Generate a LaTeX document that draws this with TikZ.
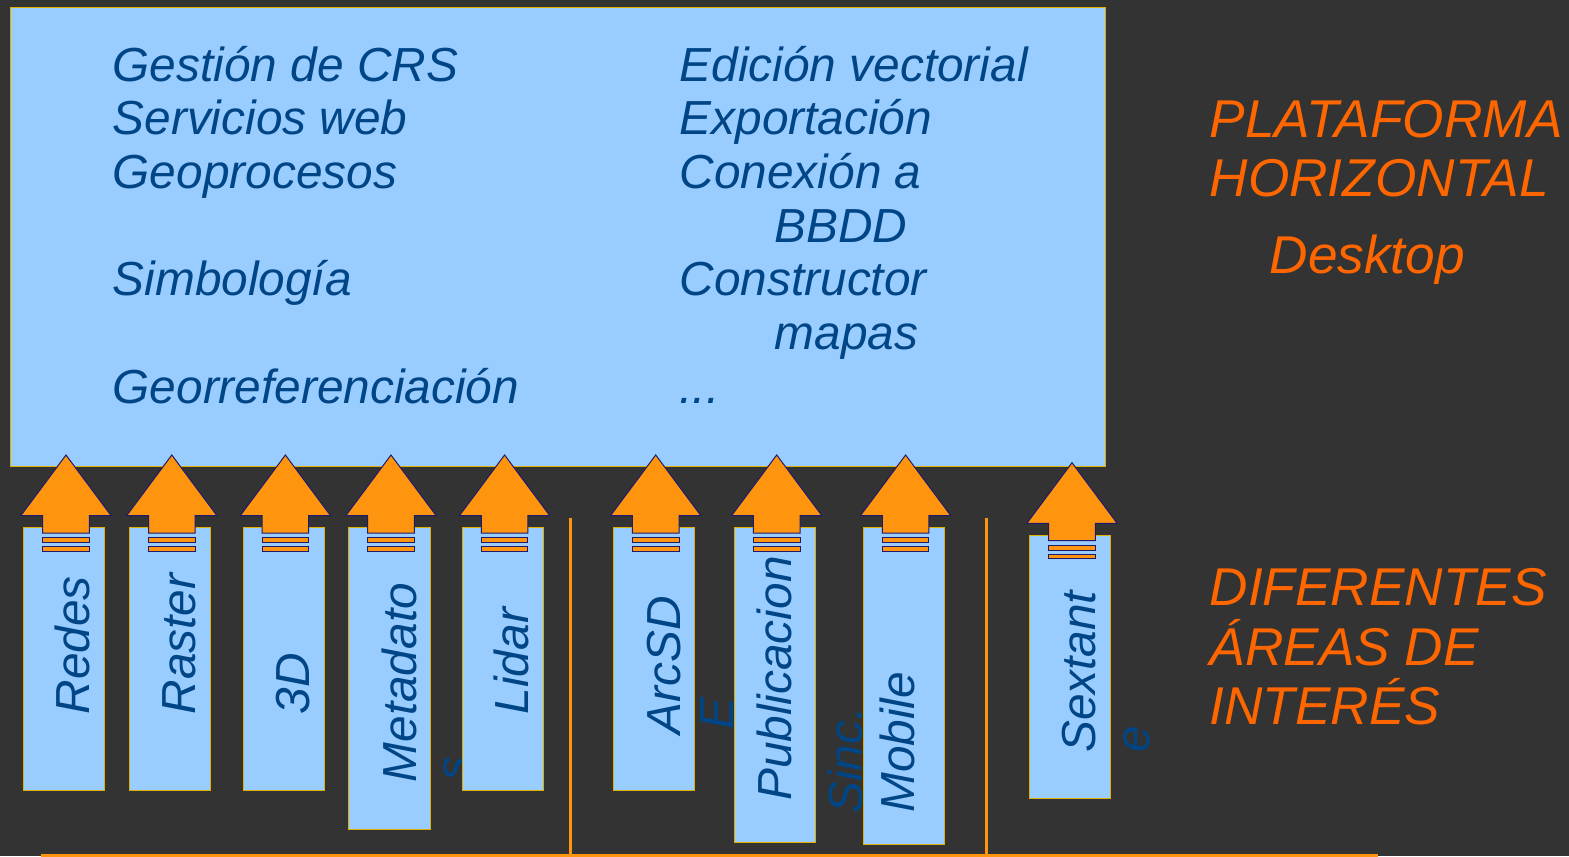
\documentclass[tikz,border=0pt]{standalone}
\usepackage{fontspec}
\setmainfont{Liberation Sans}
\definecolor{bg}{HTML}{333333}
\definecolor{boxfill}{HTML}{99CCFF}
\definecolor{boxline}{HTML}{E0B000}
\definecolor{txtblue}{HTML}{004586}
\definecolor{arrfill}{HTML}{FF950E}
\definecolor{arrline}{HTML}{1F1A6E}
\definecolor{orangetxt}{HTML}{FF6600}
\definecolor{sepline}{HTML}{FF950E}
\tikzset{
  areabox/.style={draw=boxline, fill=boxfill, line width=1bp, inner sep=0, anchor=north west},
  vtext/.style={rotate=90, anchor=base west, inner sep=0, text=txtblue, font=\fontsize{47.8bp}{53.6bp}\selectfont\itshape},
  htext/.style={anchor=base west, inner sep=0, text=txtblue, font=\fontsize{47.8bp}{53.6bp}\selectfont\itshape},
  sidelabel/.style={anchor=base west, inner sep=0, text=orangetxt, font=\fontsize{53.2bp}{59bp}\selectfont\itshape},
  uparrow/.style={fill=arrfill, draw=arrline, line width=1bp, line join=miter},
  sepline/.style={draw=sepline, line width=3bp}
}
\newcommand\myuparrow[2]{%
  \filldraw[uparrow] (#1,#2) -- ++(45.2,60.7) -- ++(-21.9,0) -- ++(0,17.3) -- ++(-46.6,0) -- ++(0,-17.3) -- ++(-21.9,0) -- cycle;
  \filldraw[uparrow] (#1-23.3,#2+82.7) rectangle (#1+23.3,#2+87.3);
  \filldraw[uparrow] (#1-23.3,#2+91.3) rectangle (#1+23.3,#2+96);
}
\begin{document}
\begin{tikzpicture}[x=1bp, y=-1bp]
\fill[bg] (0,0) rectangle (1569,856);
\useasboundingbox (0,0) rectangle (1569,856);

% main platform box
\node[areabox, minimum width=1095bp, minimum height=459bp] (plat) at (10,6.5) {};
\node[htext] (l1) at (112.5,81) {Gestión de CRS};
\node[htext] (l2) at (112.5,134.7) {Servicios web};
\node[htext] (l3) at (112.5,188.3) {Geoprocesos};
\node[htext] (l4) at (112.5,295.7) {Simbología};
\node[htext] (l5) at (112.5,403) {Georreferenciación};
\node[htext] (r1) at (679.5,81) {Edición vectorial};
\node[htext] (r2) at (679.5,134.7) {Exportación};
\node[htext] (r3) at (679.5,188.3) {Conexión a};
\node[htext] (r4) at (774.5,242) {BBDD};
\node[htext] (r5) at (679.5,295.7) {Constructor};
\node[htext] (r6) at (774.5,349.3) {mapas};
\node[htext] (r7) at (679.5,403) {...};

% side labels
\node[sidelabel] (p1) at (1209.5,137.3) {PLATAFORMA};
\node[sidelabel] (p2) at (1209.5,196.7) {HORIZONTAL};
\node[sidelabel] (p3) at (1269.5,273.3) {Desktop};
\node[sidelabel] (d1) at (1209.5,605) {DIFERENTES};
\node[sidelabel] (d2) at (1209.5,665.7) {ÁREAS DE};
\node[sidelabel] (d3) at (1209.5,724.3) {INTERÉS};

% separators
\draw[sepline] (570,518) -- (570,858);
\draw[sepline] (986,518) -- (986,858);
\draw[sepline] (41,855.5) -- (1378,855.5);

% area boxes with texts (in order, later boxes cover overflow)
\node[areabox, minimum width=81bp, minimum height=263.3bp] (redes) at (22.9,526.7) {};
\node[vtext] (tredes) at (89.3,714.5) {Redes};
\node[areabox, minimum width=81.5bp, minimum height=263.3bp] (raster) at (128.9,526.7) {};
\node[vtext] (traster) at (195.7,714.5) {Raster};
\node[areabox, minimum width=81bp, minimum height=263.3bp] (tres) at (242.5,526.7) {};
\node[vtext] (ttres) at (309,714.5) {3D};
\node[areabox, minimum width=81.4bp, minimum height=302.3bp] (meta) at (348.2,526.7) {};
\node[vtext] (tmeta) at (416,782.5) {Metadato};
\node[vtext] (tmetas) at (469,781) {s};
\node[areabox, minimum width=81.4bp, minimum height=263.3bp] (lidar) at (461.8,526.7) {};
\node[vtext] (tlidar) at (528,714.5) {Lidar};
\node[areabox, minimum width=81bp, minimum height=263bp] (arcsd) at (613,527) {};
\node[vtext] (tarcsd) at (680.6,734.5) {ArcSD};
\node[vtext] (tarcsde) at (733,730) {E};
\node[areabox, minimum width=80.6bp, minimum height=315bp] (publ) at (734.4,527) {};
\node[vtext] (tpubl) at (791.7,801) {Publicacion};
\node[vtext] (tsinc) at (862,814) {Sinc.};
\node[areabox, minimum width=81.1bp, minimum height=317bp] (mobile) at (862.5,527) {};
\node[vtext] (tmobile) at (914,813) {Mobile};
\node[areabox, minimum width=81bp, minimum height=263bp] (sext) at (1029,534.7) {};
\node[vtext] (tsext) at (1095.8,753) {Sextant};
\node[vtext] (tsexte) at (1149,753) {e};

% arrows
\myuparrow{66}{455}
\myuparrow{171.8}{455}
\myuparrow{285.4}{455}
\myuparrow{391}{455}
\myuparrow{504.6}{455}
\myuparrow{655.7}{455}
\myuparrow{776.7}{455}
\myuparrow{905.6}{455}
\myuparrow{1072}{462.7}
\end{tikzpicture}
\end{document}
